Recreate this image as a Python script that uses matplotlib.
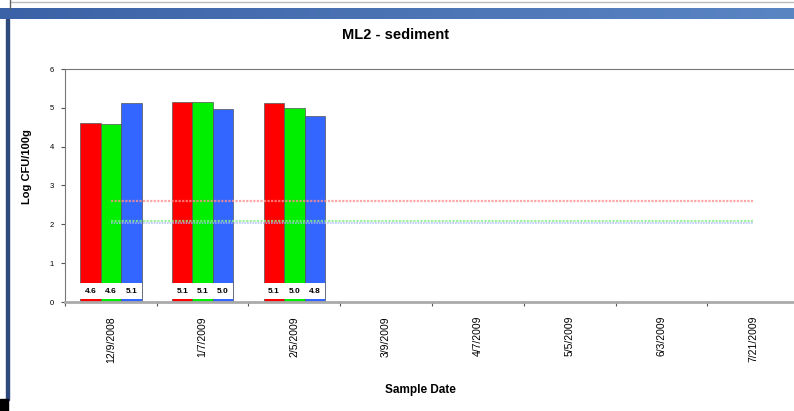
import numpy as np
import matplotlib.pyplot as plt
from matplotlib.patches import Rectangle
from matplotlib.lines import Line2D

dates = ['12/9/2008', '1/7/2009', '2/5/2009', '3/9/2009',
         '4/7/2009', '5/5/2009', '6/3/2009', '7/21/2009']
red_vals = [4.62, 5.15, 5.13]
green_vals = [4.58, 5.15, 5.0]
blue_vals = [5.13, 4.98, 4.78]
red_labels = ['4.6', '5.1', '5.1']
green_labels = ['4.6', '5.1', '5.0']
blue_labels = ['5.1', '5.0', '4.8']
red_ref = 2.6
green_ref = 2.08
blue_ref = 2.03

plt.rcParams['font.family'] = ['Liberation Sans', 'DejaVu Sans']

fig = plt.figure(figsize=(7.94, 4.11), dpi=100)

# window chrome around the chart
band = fig.add_axes([0, 1 - 19/411, 1, 11/411])
band.imshow(np.linspace(0, 1, 256)[None, :], aspect='auto',
            cmap=plt.matplotlib.colors.LinearSegmentedColormap.from_list('b', ['#3b62a6', '#5a85c3']))
band.axis('off')
fig.add_artist(Line2D([10/794, 1], [1 - 2/411] * 2, color='#bbbbbb', lw=1))
fig.add_artist(Line2D([10/794] * 2, [1 - 8/411, 1], color='#666666', lw=1))
fig.add_artist(Rectangle((6/794, 11/411), 3/794, (400 - 19)/411, color='#2e4a7c'))
fig.add_artist(Rectangle((0, 0), 8/794, 12/411, color='black'))

ax = fig.add_axes([65/794, 109/411, 734/794, 233/411])
x = np.arange(len(dates))
n = len(red_vals)
w = 0.223
cols = ['#ff0000', '#00ee00', '#3366ff']
for off, vals, col, labs in zip([-w, 0, w], [red_vals, green_vals, blue_vals], cols,
                                [red_labels, green_labels, blue_labels]):
    ax.bar(x[:n] + off, vals, w, color=col, edgecolor='#555555', linewidth=0.5, zorder=2)
    # white label box at bar base
    ax.bar(x[:n] + off, 0.4, w, bottom=0.09, color='white', linewidth=0, zorder=3)
    for xi, lab in zip(x[:n] + off, labs):
        ax.text(xi, 0.28, lab, ha='center', va='center', fontsize=6,
                fontweight='bold', zorder=4)

ax.plot(x, [red_ref] * len(x), color='#ff9090', lw=1.6, ls=(0, (1, 0.6)), alpha=0.8, zorder=5)
ax.plot(x, [green_ref] * len(x), color='#88ee88', lw=1.6, ls=(0, (1, 0.6)), alpha=0.8, zorder=5)
ax.plot(x, [blue_ref] * len(x), color='#aab8ff', lw=1.2, ls=(0, (1, 0.6)), alpha=0.8, zorder=5)

ax.set_xlim(-0.5, len(dates) - 0.5)
ax.set_ylim(0, 6)
ax.set_xticks(x)
ax.set_xticklabels(dates, rotation=90, fontsize=7.5)
ax.set_xticks(np.arange(len(dates) + 1) - 0.5, minor=True)
ax.tick_params(axis='x', which='major', length=0, pad=10)
ax.tick_params(axis='x', which='minor', length=3, width=0.8, color='#555555')
ax.set_yticks(range(7))
ax.tick_params(axis='y', labelsize=5.5, length=3, width=0.8, color='#555555', pad=5)

for s in ['top', 'left']:
    ax.spines[s].set_color('#777777')
    ax.spines[s].set_linewidth(0.8)
ax.spines['right'].set_visible(False)
ax.spines['bottom'].set_color('#aaaaaa')
ax.spines['bottom'].set_linewidth(2)

fig.text(396/794, 1 - 35/411, 'ML2 - sediment', fontsize=10.5, fontweight='bold',
         ha='center', va='center')
ax.set_ylabel('Log CFU/100g', fontsize=8, fontweight='bold')
ax.yaxis.set_label_coords(-0.045, 0.58)
ax.set_xlabel('Sample Date', fontsize=8.5, fontweight='bold')
ax.xaxis.set_label_coords(0.484, -0.35)

fig.savefig('out.png', dpi=100)
